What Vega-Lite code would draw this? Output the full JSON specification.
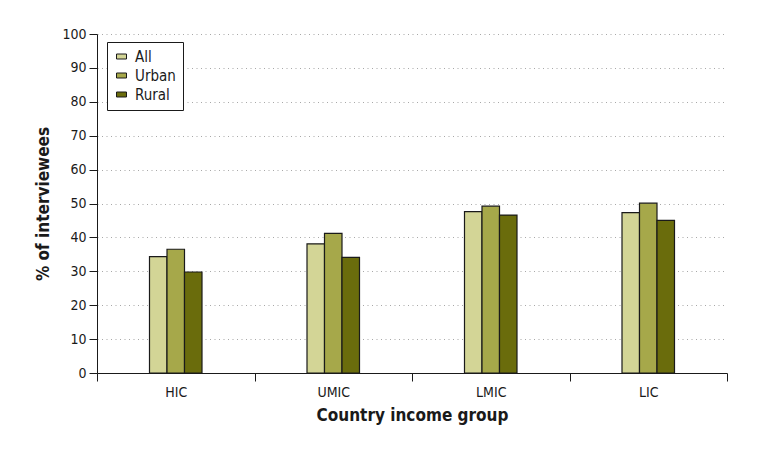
{
  "$schema": "https://vega.github.io/schema/vega-lite/v6.json",
  "width": 630,
  "height": 339,
  "autosize": {"type": "none"},
  "padding": {"left": 97, "top": 34, "right": 44, "bottom": 81},
  "background": "white",
  "data": {
    "values": [
      {"group": "HIC", "area": "All", "value": 34.3},
      {"group": "HIC", "area": "Urban", "value": 36.5},
      {"group": "HIC", "area": "Rural", "value": 29.8},
      {"group": "UMIC", "area": "All", "value": 38.1},
      {"group": "UMIC", "area": "Urban", "value": 41.2},
      {"group": "UMIC", "area": "Rural", "value": 34.1},
      {"group": "LMIC", "area": "All", "value": 47.6},
      {"group": "LMIC", "area": "Urban", "value": 49.2},
      {"group": "LMIC", "area": "Rural", "value": 46.6},
      {"group": "LIC", "area": "All", "value": 47.3},
      {"group": "LIC", "area": "Urban", "value": 50.1},
      {"group": "LIC", "area": "Rural", "value": 45.0}
    ]
  },
  "config": {
    "font": "'Liberation Sans Narrow', 'DejaVu Sans Condensed', 'Open Sans', sans-serif",
    "view": {"stroke": null}
  },
  "mark": {"type": "bar", "stroke": "#1a1a1a", "strokeWidth": 1.2},
  "encoding": {
    "x": {
      "field": "group",
      "type": "nominal",
      "sort": ["HIC", "UMIC", "LMIC", "LIC"],
      "scale": {"paddingInner": 0, "paddingOuter": 0},
      "axis": {
        "title": "Country income group",
        "titleFontSize": 17,
        "titleFontWeight": "bold",
        "titleColor": "#1a1a1a",
        "titlePadding": 8,
        "labelAngle": 0,
        "labelFontSize": 14,
        "labelColor": "#1a1a1a",
        "labelPadding": 4,
        "tickBand": "extent",
        "tickSize": 8,
        "tickColor": "#1a1a1a",
        "domainColor": "#1a1a1a",
        "grid": false
      }
    },
    "xOffset": {
      "field": "area",
      "type": "nominal",
      "scale": {
        "domain": ["p1", "p2", "p3", "All", "Urban", "Rural", "p4", "p5", "p6"],
        "paddingInner": 0,
        "paddingOuter": 0
      }
    },
    "y": {
      "field": "value",
      "type": "quantitative",
      "scale": {"domain": [0, 100], "nice": false},
      "axis": {
        "title": "% of interviewees",
        "titleFontSize": 17,
        "titleFontWeight": "bold",
        "titleColor": "#1a1a1a",
        "titlePadding": 9,
        "values": [0, 10, 20, 30, 40, 50, 60, 70, 80, 90, 100],
        "labelFontSize": 14,
        "labelColor": "#1a1a1a",
        "labelPadding": 3,
        "tickSize": 8,
        "tickColor": "#1a1a1a",
        "domainColor": "#1a1a1a",
        "grid": true,
        "gridColor": "#a8a8a8",
        "gridDash": [1, 3.5],
        "gridWidth": 1.2
      }
    },
    "color": {
      "field": "area",
      "type": "nominal",
      "sort": ["All", "Urban", "Rural"],
      "scale": {"domain": ["All", "Urban", "Rural"], "range": ["#d3d596", "#a6a84a", "#6a6c0c"]},
      "legend": {
        "title": null,
        "orient": "none",
        "legendX": 10,
        "legendY": 8,
        "padding": 7,
        "strokeColor": "#1a1a1a",
        "fillColor": "white",
        "labelFontSize": 15,
        "labelColor": "#1a1a1a",
        "labelOffset": 6,
        "rowPadding": 3,
        "symbolType": "M-1,-0.5L1,-0.5L1,0.5L-1,0.5Z",
        "symbolSize": 100,
        "symbolStrokeColor": "#1a1a1a",
        "symbolStrokeWidth": 1
      }
    }
  }
}
